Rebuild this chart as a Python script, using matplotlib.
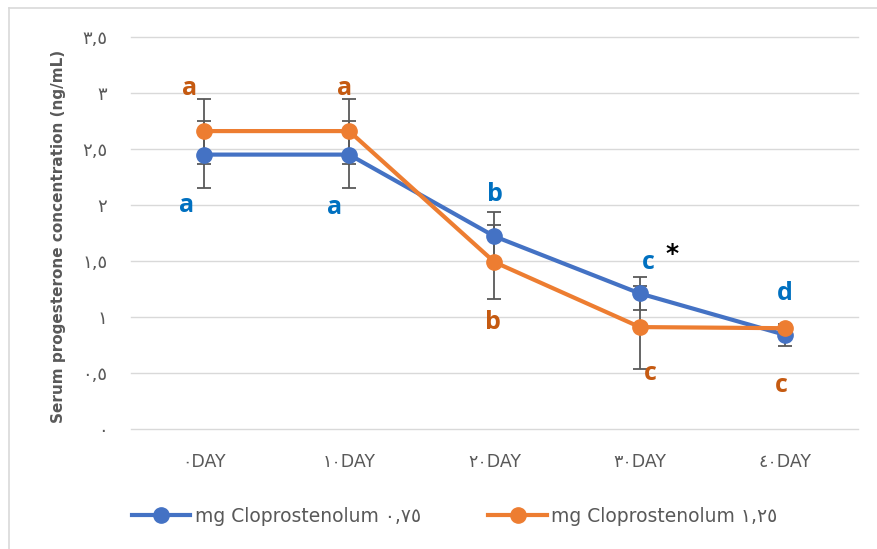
import matplotlib
matplotlib.use("Agg")
import matplotlib.pyplot as plt
from matplotlib.lines import Line2D

# --- data ---
days = ["٠DAY", "١٠DAY", "٢٠DAY", "٣٠DAY", "٤٠DAY"]
low_dose = [2.45, 2.45, 1.72, 1.21, 0.84]
low_err = [0.30, 0.30, 0.22, 0.15, 0.10]
high_dose = [2.66, 2.66, 1.49, 0.91, 0.90]
high_err = [0.29, 0.29, 0.33, 0.37, 0.03]
low_letters = ["a", "a", "b", "c", "d"]
high_letters = ["a", "a", "b", "c", "c"]
yticks = [0, 0.5, 1, 1.5, 2, 2.5, 3, 3.5]
ytick_labels = ["٠", "٠,٥", "١", "١,٥", "٢", "٢,٥", "٣", "٣,٥"]
legend_labels = ["mg Cloprostenolum ٠,٧٥", "mg Cloprostenolum ١,٢٥"]

blue, orange = "#4472C4", "#ED7D31"
blue_txt, orange_txt = "#0070C0", "#C55A11"
gray = "#595959"

fig = plt.figure(figsize=(8.78, 5.49), dpi=100)
# light chart border
fig.add_artist(plt.Line2D([9/878, 9/878], [0, 1 - 8/549], color="#D9D9D9", lw=1.2))
fig.add_artist(plt.Line2D([9/878, 1], [1 - 8/549, 1 - 8/549], color="#D9D9D9", lw=1.2))

ax = fig.add_axes([131/878, 120/549, 727/878, 392/549])
x = list(range(len(days)))

for vals, errs in [(low_dose, low_err), (high_dose, high_err)]:
    ax.errorbar(x, vals, yerr=errs, fmt="none", ecolor="#595959", elinewidth=1.3,
                capsize=5, capthick=1.3, zorder=2)
ax.plot(x, low_dose, color=blue, lw=3, marker="o", ms=11, zorder=3)
ax.plot(x, high_dose, color=orange, lw=3, marker="o", ms=11, zorder=4)

# significance letters
low_off = [(-0.12, -0.45), (-0.1, -0.47), (0.0, 0.37), (0.06, 0.28), (0.0, 0.37)]
high_off = [(-0.1, 0.38), (-0.03, 0.38), (-0.01, -0.54), (0.07, -0.41), (-0.03, -0.51)]
for i in x:
    dx, dy = low_off[i]
    ax.text(i + dx, low_dose[i] + dy, low_letters[i], color=blue_txt, fontsize=18,
            fontweight="bold", ha="center", va="center", family="Open Sans")
    dx, dy = high_off[i]
    ax.text(i + dx, high_dose[i] + dy, high_letters[i], color=orange_txt, fontsize=18,
            fontweight="bold", ha="center", va="center", family="Open Sans")
ax.text(3.22, 1.56, "*", color="black", fontsize=18, fontweight="bold",
        ha="center", va="center")

ax.set_xlim(-0.5, 4.5)
ax.set_ylim(0, 3.5)
ax.set_xticks(x)
ax.set_xticklabels(days, fontsize=12.5, color=gray)
ax.set_yticks(yticks)
ax.set_yticklabels(ytick_labels, fontsize=13, color=gray)
ax.tick_params(length=0)
ax.tick_params(axis="x", pad=17)
ax.tick_params(axis="y", pad=17)
ax.grid(axis="y", color="#D9D9D9", lw=1)
for gl in ax.get_ygridlines():
    gl.set_clip_on(False)
ax.set_axisbelow(True)
for s in ax.spines.values():
    s.set_visible(False)
ax.set_ylabel("Serum progesterone concentration (ng/mL)", fontsize=11,
              fontweight="bold", color=gray)
ax.yaxis.set_label_coords(-0.09, 0.49)

handles = [Line2D([], [], color=blue, lw=3, marker="o", ms=11),
           Line2D([], [], color=orange, lw=3, marker="o", ms=11)]
fig.legend(handles, legend_labels, loc="center", bbox_to_anchor=(0.518, 0.06),
           ncol=2, frameon=False, fontsize=13.5, labelcolor=gray,
           handlelength=3.1, handletextpad=0.25, columnspacing=3.6)

plt.savefig("out.png", dpi=100)
plt.close(fig)
